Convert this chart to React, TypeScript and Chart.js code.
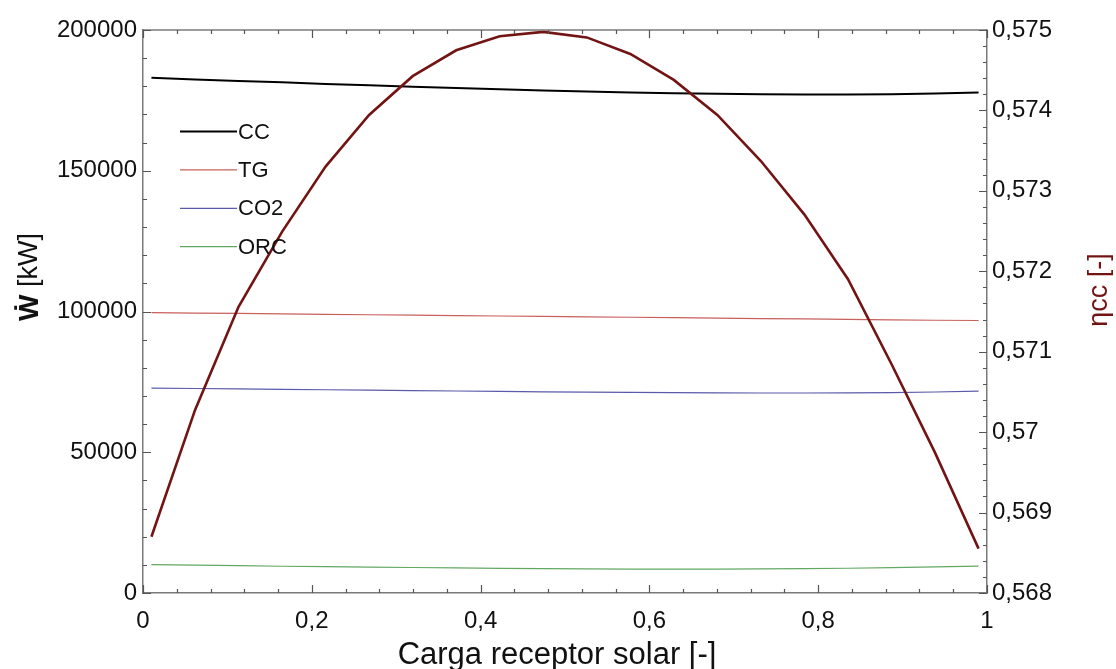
import React, { useEffect, useRef } from "react";
import { Chart, registerables } from "chart.js";

Chart.register(...registerables);

// ---- data ----
const carga = [
  0.01, 0.0616, 0.1132, 0.1647, 0.2163, 0.2679, 0.3195, 0.3711, 0.4226, 0.4742,
  0.5258, 0.5774, 0.6289, 0.6805, 0.7321, 0.7837, 0.8353, 0.8868, 0.9384, 0.99,
];
const wCC = [
  183000, 182450, 181900, 181400, 180850, 180350, 179850, 179400, 178950, 178550,
  178150, 177800, 177550, 177350, 177200, 177100, 177100, 177200, 177450, 177800,
];
const wTG = [
  99600, 99450, 99300, 99150, 99000, 98850, 98700, 98550, 98400, 98250,
  98100, 97950, 97800, 97650, 97500, 97350, 97200, 97050, 96900, 96800,
];
const wCO2 = [
  72800, 72650, 72500, 72350, 72200, 72050, 71900, 71750, 71600, 71450,
  71350, 71250, 71150, 71100, 71050, 71050, 71100, 71200, 71400, 71700,
];
const wORC = [
  10100, 9900, 9700, 9500, 9350, 9200, 9050, 8900, 8750, 8650,
  8550, 8500, 8500, 8500, 8550, 8650, 8800, 9000, 9250, 9550,
];
const etaCC = [
  0.568699, 0.570273, 0.571558, 0.57249, 0.573302, 0.573944, 0.574426, 0.574748, 0.574922, 0.574977,
  0.574908, 0.574702, 0.57438, 0.573944, 0.573371, 0.572705, 0.571902, 0.570847, 0.569745, 0.568552,
];

const xTickValues = [0, 0.2, 0.4, 0.6, 0.8, 1];
const xTickLabels = ["0", "0,2", "0,4", "0,6", "0,8", "1"];
const yTickValues = [0, 50000, 100000, 150000, 200000];
const yTickLabels = ["0", "50000", "100000", "150000", "200000"];
const y1TickValues = [0.568, 0.569, 0.57, 0.571, 0.572, 0.573, 0.574, 0.575];
const y1TickLabels = ["0,568", "0,569", "0,57", "0,571", "0,572", "0,573", "0,574", "0,575"];

const seriesNames = ["CC", "TG", "CO2", "ORC"];
const seriesColors = ["#000000", "#c8605c", "#5a5aaa", "#62a862"];
const seriesWidths = [2, 1.2, 1.2, 1.2];
const etaColor = "#731414";

const FONT = "'Liberation Sans', Arial, Helvetica, sans-serif";

const decorPlugin = {
  id: "decor",
  afterDatasetsDraw(chart: any) {
    const ctx = chart.ctx as CanvasRenderingContext2D;
    const { left, right, top, bottom } = chart.chartArea;
    const sx = chart.scales.x;
    const sy = chart.scales.y;
    const sy1 = chart.scales.y1;
    ctx.save();
    // frame top line
    ctx.strokeStyle = "#7a7a7a";
    ctx.lineWidth = 1.5;
    ctx.beginPath();
    ctx.moveTo(left, top);
    ctx.lineTo(right, top);
    ctx.stroke();

    // inward ticks
    ctx.strokeStyle = "#555555";
    ctx.lineWidth = 1.2;
    ctx.beginPath();
    for (let i = 0; i <= 25; i++) {
      const v = i * 0.04;
      const px = Math.round(sx.getPixelForValue(v)) + 0.5;
      const len = i % 5 === 0 ? 8 : 4;
      ctx.moveTo(px, bottom);
      ctx.lineTo(px, bottom - len);
      ctx.moveTo(px, top);
      ctx.lineTo(px, top + len);
    }
    for (let i = 0; i <= 20; i++) {
      const v = i * 10000;
      const py = Math.round(sy.getPixelForValue(v)) + 0.5;
      const len = i % 5 === 0 ? 8 : 4;
      ctx.moveTo(left, py);
      ctx.lineTo(left + len, py);
    }
    for (let i = 0; i <= 35; i++) {
      const v = 0.568 + i * 0.0002;
      const py = Math.round(sy1.getPixelForValue(v)) + 0.5;
      const len = i % 5 === 0 ? 8 : 4;
      ctx.moveTo(right, py);
      ctx.lineTo(right - len, py);
    }
    ctx.stroke();

    // legend inside the plot
    const lx0 = left + 37;
    const lx1 = left + 94;
    for (let i = 0; i < 4; i++) {
      const ds = chart.data.datasets[i + 1];
      const y = top + 101.5 + i * 38.4;
      ctx.strokeStyle = ds.borderColor;
      ctx.lineWidth = ds.borderWidth;
      ctx.beginPath();
      ctx.moveTo(lx0, y);
      ctx.lineTo(lx1, y);
      ctx.stroke();
      ctx.fillStyle = "#111111";
      ctx.font = `22px ${FONT}`;
      ctx.textBaseline = "middle";
      ctx.textAlign = "left";
      ctx.fillText(ds.label, lx1 + 1, y + 1);
    }

    // axis titles
    ctx.fillStyle = "#111111";
    ctx.font = `31px ${FONT}`;
    ctx.textAlign = "center";
    ctx.textBaseline = "middle";
    ctx.fillText("Carga receptor solar [-]", (left + right) / 2 - 8, 655);

    // left title: bold W-dot + [kW]
    ctx.save();
    ctx.translate(30, 277);
    ctx.rotate(-Math.PI / 2);
    const boldFont = `bold 28px ${FONT}`;
    const normFont = `27px ${FONT}`;
    ctx.font = boldFont;
    const w1 = ctx.measureText("Ẇ").width;
    ctx.font = normFont;
    const w2 = ctx.measureText(" [kW]").width;
    const start = -(w1 + w2) / 2;
    ctx.textAlign = "left";
    ctx.font = boldFont;
    ctx.fillText("Ẇ", start, 0);
    ctx.font = normFont;
    ctx.fillText(" [kW]", start + w1, 0);
    ctx.restore();

    // right title
    ctx.save();
    ctx.translate(1100, 290);
    ctx.rotate(-Math.PI / 2);
    ctx.fillStyle = etaColor;
    ctx.font = `27px ${FONT}`;
    ctx.textAlign = "center";
    ctx.fillText("ηcc [-]", 0, 0);
    ctx.restore();

    ctx.restore();
  },
};

export default function App() {
  const ref = useRef<HTMLCanvasElement | null>(null);
  useEffect(() => {
    document.body.style.margin = "0";
    const canvas = ref.current!;
    const tickFont = { family: FONT, size: 24 };
    const datasets: any[] = [
      {
        label: "ηcc",
        data: carga.map((x, i) => ({ x, y: etaCC[i] })),
        yAxisID: "y1",
        borderColor: etaColor,
        borderWidth: 2.6,
        pointRadius: 0,
        tension: 0,
        order: 0,
      },
    ];
    const seriesData = [wCC, wTG, wCO2, wORC];
    seriesNames.forEach((name, k) => {
      datasets.push({
        label: name,
        data: carga.map((x, i) => ({ x, y: seriesData[k][i] })),
        yAxisID: "y",
        borderColor: seriesColors[k],
        borderWidth: seriesWidths[k],
        pointRadius: 0,
        tension: 0,
        order: 1,
      });
    });
    const grid = { display: false, drawTicks: false };
    const border = { display: true, color: "#7a7a7a", width: 1.5 };
    const chart = new Chart(canvas, {
      type: "line",
      data: { datasets },
      options: {
        animation: false,
        responsive: false,
        maintainAspectRatio: false,
        layout: { padding: { top: 30, left: 0, right: 0, bottom: 0 } },
        plugins: { legend: { display: false }, tooltip: { enabled: false } },
        scales: {
          x: {
            type: "linear",
            min: 0,
            max: 1,
            grid,
            border,
            ticks: {
              font: tickFont,
              color: "#111111",
              padding: 14,
              maxRotation: 0,
              autoSkip: false,
              callback: (v: any) => {
                const idx = xTickValues.findIndex((t) => Math.abs(t - v) < 1e-9);
                return idx >= 0 ? xTickLabels[idx] : "";
              },
            },
            afterBuildTicks: (s: any) => {
              s.ticks = xTickValues.map((value) => ({ value }));
            },
            afterFit: (s: any) => {
              s.height = 76;
            },
          },
          y: {
            type: "linear",
            position: "left",
            min: 0,
            max: 200000,
            grid,
            border,
            ticks: {
              font: tickFont,
              color: "#111111",
              padding: 6,
              autoSkip: false,
              callback: (v: any) => {
                const idx = yTickValues.findIndex((t) => Math.abs(t - v) < 1e-6);
                return idx >= 0 ? yTickLabels[idx] : "";
              },
            },
            afterBuildTicks: (s: any) => {
              s.ticks = yTickValues.map((value) => ({ value }));
            },
            afterFit: (s: any) => {
              s.width = 143;
            },
          },
          y1: {
            type: "linear",
            position: "right",
            min: 0.568,
            max: 0.575,
            grid,
            border,
            ticks: {
              font: tickFont,
              color: "#111111",
              padding: 5,
              autoSkip: false,
              callback: (v: any) => {
                const idx = y1TickValues.findIndex((t) => Math.abs(t - v) < 1e-9);
                return idx >= 0 ? y1TickLabels[idx] : "";
              },
            },
            afterBuildTicks: (s: any) => {
              s.ticks = y1TickValues.map((value) => ({ value }));
            },
            afterFit: (s: any) => {
              s.width = 129;
            },
          },
        },
      },
      plugins: [decorPlugin],
    });
    return () => chart.destroy();
  }, []);
  return (
    <div style={{ width: 1116, height: 669, background: "#ffffff" }}>
      <canvas ref={ref} width={1116} height={669} style={{ display: "block" }} />
    </div>
  );
}
